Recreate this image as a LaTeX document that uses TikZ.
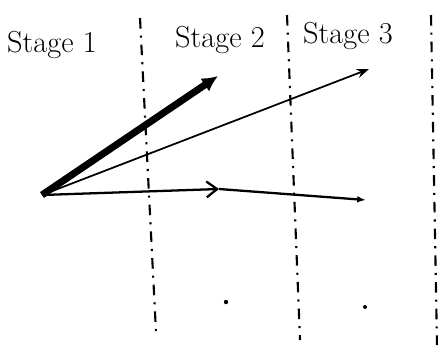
\documentclass[tikz,border=0pt]{standalone}
\usepackage{amsmath}
\usepackage{tikz}
\usetikzlibrary{arrows.meta}

\tikzset{stageline/.style={line width=1.2pt,dash pattern=on 6pt off 4pt on 1.2pt off 4pt}}

\begin{document}
\begin{tikzpicture}[x=0.02cm,y=-0.02cm]
  \useasboundingbox (0,0) rectangle (438,345);
  \node (s1) at (52,45) {\LARGE Stage 1};
  \node (s2) at (220,40) {\LARGE Stage 2};
  \node (s3) at (348,36) {\LARGE Stage 3};
  \draw[stageline] (140,18) -- (156,332);
  \draw[stageline] (287,15) -- (300,340);
  \draw[stageline] (431,15) -- (437,345);
  \coordinate (O) at (42,195);
  \coordinate (A) at (218,76);
  \coordinate (B) at (369,69);
  \coordinate (M) at (219,189);
  \coordinate (C) at (366,200);
  \draw[line width=4pt,-{Latex[length=9pt,width=9pt]}] (O) -- (A);
  \draw[line width=1pt,-{Stealth[length=7pt]}] (O) -- (B);
  \draw[line width=1.3pt,-{Straight Barb[length=6pt,width=9pt]}] (O) -- (M);
  \draw[line width=1.3pt,-{Latex[length=5pt]}] (M) -- (C);
  \fill (226,302) circle (2.2);
  \fill (365,307) circle (2);
\end{tikzpicture}
\end{document}
